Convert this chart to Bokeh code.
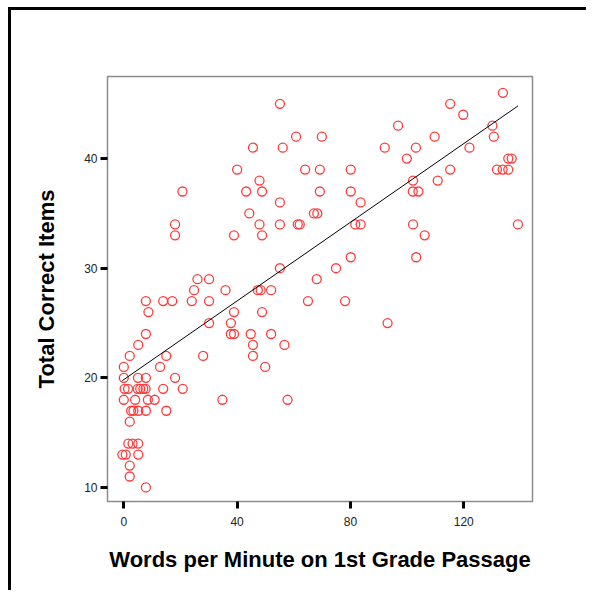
from bokeh.plotting import figure
from bokeh.models import Range1d, FixedTicker
from bokeh.embed import file_html
from bokeh.resources import INLINE

# Words per minute (x) and total correct items (y)
wpm = [
    133.8,
    55.1, 115.2,
    119.8,
    96.8, 130.1,
    60.8, 69.9, 109.7, 130.6,
    45.6, 56.1, 92.1, 103.1, 122.0,
    99.9, 135.7, 136.9,
    40.0, 64.0, 69.2, 80.1, 115.2, 131.7, 133.7, 135.7,
    47.9, 102.1, 110.8,
    20.7, 43.2, 48.8, 69.2, 80.1, 102.0, 104.0,
    55.1, 83.6,
    44.3, 67.1, 68.3,
    18.1, 47.9, 55.1, 61.4, 62.1, 81.7, 83.6, 102.1, 139.1,
    18.1, 38.9, 48.8, 106.2,
    80.1, 103.2,
    55.1, 74.9,
    26.0, 30.1, 68.1,
    24.8, 35.9, 47.3, 48.3, 52.0,
    7.8, 13.9, 17.1, 24.0, 30.1, 65.0, 78.1,
    8.7, 38.9, 48.8,
    30.1, 37.8, 93.1,
    7.8, 37.8, 38.9, 44.8, 52.0,
    5.1, 45.6, 56.7,
    2.1, 15.0, 28.0, 45.6,
    0.0, 12.8, 49.9,
    0.0, 5.0, 7.8, 18.1,
    0.3, 1.5, 4.9, 5.8, 6.9, 7.7, 13.9, 20.8,
    0.0, 4.0, 8.5, 10.9, 34.8, 57.8,
    2.6, 3.4, 5.1, 7.8, 15.0,
    2.1,
    1.6, 3.1, 5.1,
    -0.5, 0.7, 5.1,
    2.1,
    2.1,
    7.8,
]
total_correct = (
    [46] * 1 + [45] * 2 + [44] * 1 + [43] * 2 + [42] * 4 + [41] * 5 + [40] * 3
    + [39] * 8 + [38] * 3 + [37] * 7 + [36] * 2 + [35] * 3 + [34] * 9 + [33] * 4
    + [31] * 2 + [30] * 2 + [29] * 3 + [28] * 5 + [27] * 7 + [26] * 3 + [25] * 3
    + [24] * 5 + [23] * 3 + [22] * 4 + [21] * 3 + [20] * 4 + [19] * 8 + [18] * 6
    + [17] * 5 + [16] * 1 + [14] * 3 + [13] * 3 + [12] * 1 + [11] * 1 + [10] * 1
)

# Fit line end points
fit_x = [-0.5, 139.1]
fit_y = [19.75, 44.8]

x_ticks = [0, 40, 80, 120]
y_ticks = [10, 20, 30, 40]

p = figure(
    frame_width=425, frame_height=425,
    min_border_left=96, min_border_right=54,
    min_border_top=66, min_border_bottom=89,
    x_range=Range1d(-5.75, 144.25), y_range=Range1d(8.72, 47.49),
    output_backend="svg", toolbar_location=None,
)
p.styles = {"border-left": "3px solid black", "border-top": "3px solid black",
            "margin-left": "8px", "margin-top": "7px"}

p.xgrid.visible = False
p.ygrid.visible = False
p.outline_line_color = "#8c8c8c"
p.outline_line_width = 1.5
p.background_fill_color = "white"
p.border_fill_color = "white"

p.scatter(wpm, total_correct, marker="circle", size=9, fill_color=None,
          line_color="#ff3c3c", line_width=1.3)
p.line(fit_x, fit_y, line_color="black", line_width=1)

for ax in (p.xaxis[0], p.yaxis[0]):
    ax.axis_line_color = None
    ax.major_tick_line_color = "black"
    ax.major_tick_line_width = 3
    ax.major_tick_out = 7
    ax.major_tick_in = 0
    ax.minor_tick_line_color = None
    ax.major_label_text_font = "Liberation Sans"
    ax.major_label_text_font_size = "12px"
    ax.major_label_text_color = "#222222"
    ax.axis_label_text_font = "Liberation Sans"
    ax.axis_label_text_font_style = "bold"
    ax.axis_label_text_font_size = "22px"
    ax.axis_label_text_color = "black"

p.xaxis[0].ticker = FixedTicker(ticks=x_ticks)
p.yaxis[0].ticker = FixedTicker(ticks=y_ticks)
p.xaxis[0].major_label_standoff = 8
p.yaxis[0].major_label_standoff = 3
p.xaxis[0].axis_label = "Words per Minute on 1st Grade Passage"
p.yaxis[0].axis_label = "Total Correct Items"
p.xaxis[0].axis_label_standoff = 18
p.yaxis[0].axis_label_standoff = 22

open("out.html", "w").write(file_html(p, INLINE))
